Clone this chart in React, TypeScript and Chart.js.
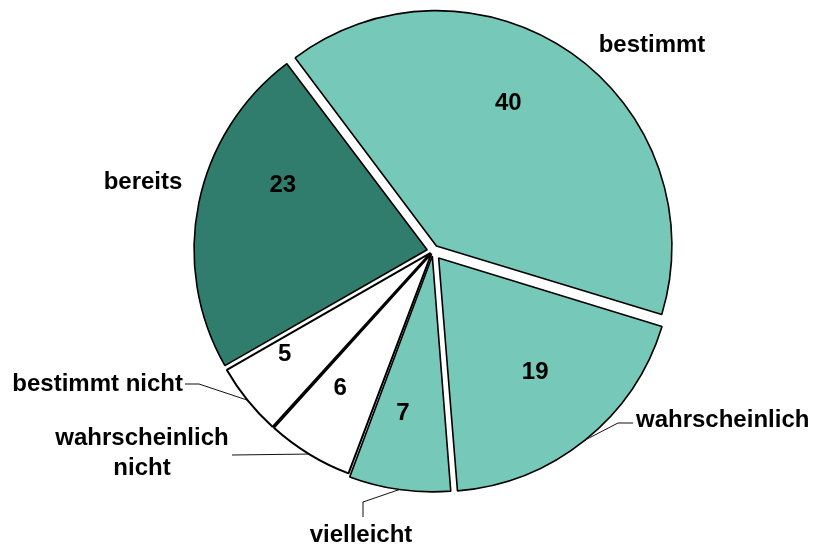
import React, { useEffect, useRef } from "react";
import { Chart, registerables } from "chart.js";

Chart.register(...registerables);

const categories = ["bestimmt", "wahrscheinlich", "vielleicht", "wahrscheinlich nicht", "bestimmt nicht", "bereits"];
const values = [40, 19, 7, 6, 5, 23];
const labelLines = [["bestimmt"], ["wahrscheinlich"], ["vielleicht"], ["wahrscheinlich", "nicht"], ["bestimmt nicht"], ["bereits"]];

const LIGHT = "#76C8B8";
const DARK = "#317D6D";
const colors = [LIGHT, LIGHT, LIGHT, "#FFFFFF", "#FFFFFF", DARK];
// Chart.js translates an arc by offset / 4 px
const offsets = [24, 36, 20, 12, 12, 24];
const borderWidths = [1.6, 1.6, 1.6, 2, 2, 1.6];

// layout relative to the pie centre (px)
const valuePos = [
  { a: 27, r: 166 },
  { a: 140, r: 159 },
  { a: 190.5, r: 165 },
  { a: 214, r: 166 },
  { a: 235, r: 181 },
  { a: 293.7, r: 164 },
];
type OuterLabel = { tx: number; ty: number; align: CanvasTextAlign; pts: number[][] | null };
const outerLabels: OuterLabel[] = [
  { tx: 219, ty: -206, align: "center", pts: null },
  { tx: 203, ty: 169, align: "left", pts: [[185, 172], [200, 172]] },
  { tx: -72, ty: 284, align: "center", pts: [[-70, 251], [-70, 266]] },
  { tx: -291, ty: 187, align: "center", pts: [[-201, 204]] },
  { tx: -250, ty: 133, align: "right", pts: [[-234, 133], [-248, 133]] },
  { tx: -290, ty: -69, align: "center", pts: null },
];

const FONT = "bold 24px 'Liberation Sans', Arial, sans-serif";

const labelPlugin = {
  id: "pieLabels",
  afterDatasetsDraw(chart: any) {
    const ctx = chart.ctx as CanvasRenderingContext2D;
    const meta = chart.getDatasetMeta(0);
    ctx.save();
    ctx.font = FONT;
    ctx.fillStyle = "#000";
    ctx.textBaseline = "middle";
    meta.data.forEach((arc: any, i: number) => {
      const cx = arc.x;
      const cy = arc.y;
      const R = arc.outerRadius;
      const mid = (arc.startAngle + arc.endAngle) / 2;
      const circ = arc.endAngle - arc.startAngle;
      const t = (offsets[i] || 0) / 4;
      const infl = t * (1 - Math.sin(Math.min(Math.PI, circ)));
      // value label
      const vp = valuePos[i];
      const ang = (vp.a * Math.PI) / 180;
      ctx.textAlign = "center";
      ctx.fillText(String(values[i]), cx + Math.sin(ang) * vp.r, cy - Math.cos(ang) * vp.r);
      // outer label
      const ol = outerLabels[i];
      if (ol.pts) {
        ctx.beginPath();
        ctx.strokeStyle = "#111";
        ctx.lineWidth = 1;
        ctx.moveTo(cx + Math.cos(mid) * (R + t + infl), cy + Math.sin(mid) * (R + t + infl));
        ol.pts.forEach((p) => ctx.lineTo(cx + p[0], cy + p[1]));
        ctx.stroke();
      }
      ctx.textAlign = ol.align;
      const lines = labelLines[i];
      const lh = 30;
      lines.forEach((s, k) => {
        ctx.fillText(s, cx + ol.tx, cy + ol.ty + k * lh);
      });
    });
    ctx.restore();
  },
};

export default function App() {
  const ref = useRef<HTMLCanvasElement>(null);
  useEffect(() => {
    if (!ref.current) return;
    const chart = new Chart(ref.current, {
      type: "pie",
      data: {
        labels: categories,
        datasets: [
          {
            data: values,
            backgroundColor: colors,
            borderColor: "#000000",
            borderWidth: borderWidths,
            offset: offsets,
          } as any,
        ],
      },
      options: {
        animation: false,
        responsive: false,
        rotation: -37,
        radius: 233,
        layout: { padding: { left: 53, right: 0, top: 0, bottom: 45 } },
        plugins: { legend: { display: false }, tooltip: { enabled: false } },
      } as any,
      plugins: [labelPlugin],
    });
    return () => chart.destroy();
  }, []);
  return (
    <div style={{ position: "absolute", left: 0, top: 0, width: 813, height: 547, background: "#fff" }}>
      <canvas ref={ref} width={813} height={547} style={{ display: "block" }} />
    </div>
  );
}
